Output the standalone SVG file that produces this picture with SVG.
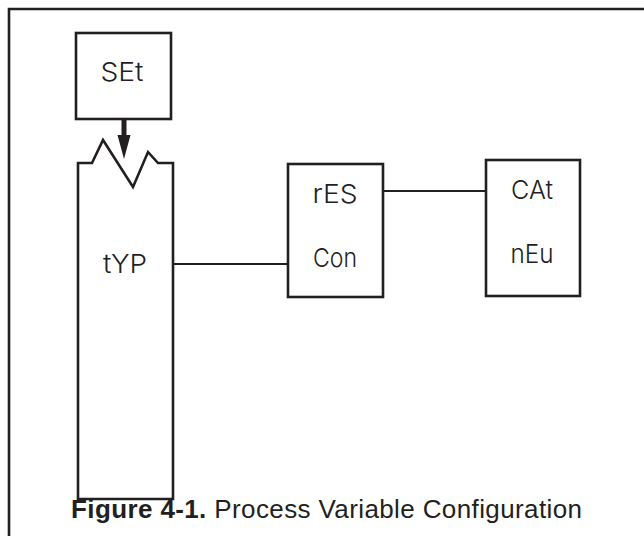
<svg xmlns="http://www.w3.org/2000/svg" width="644" height="536" viewBox="0 0 644 536">
<style>
.frame{fill:none;stroke:#231f20;stroke-width:2.6}
.box{fill:#fff;stroke:#231f20;stroke-width:2.6}
.conn{fill:none;stroke:#231f20;stroke-width:2.2}
.seg{font-family:"Inter","Open Sans","DejaVu Sans",sans-serif;font-weight:300;font-size:26px;fill:#231f20;text-anchor:middle}
.cap{font-family:"Liberation Sans",Arial,sans-serif;font-size:26px;fill:#231f20}
</style>
<rect width="644" height="536" fill="#fff"/>
<path class="frame" d="M9 536 V9 H644"/>
<g id="connectors">
<line class="conn" x1="173" y1="264" x2="288" y2="264"/>
<line class="conn" x1="383" y1="191" x2="486" y2="191"/>
</g>
<g id="node-set">
<rect class="box" x="76" y="33" width="95" height="86"/>
<text class="seg" x="122" y="81" textLength="43" lengthAdjust="spacingAndGlyphs">SEt</text>
</g>
<g id="node-typ">
<path class="box" d="M78 499 V163 H92 L103 140 L133 187 L148 152 L158 163 H173 V499 Z"/>
<text class="seg" x="125" y="273" textLength="44" lengthAdjust="spacingAndGlyphs">tYP</text>
</g>
<g id="arrow">
<rect x="121.5" y="119" width="5" height="17" fill="#231f20"/>
<polygon points="117.5,135 130.5,135 124,159" fill="#231f20"/>
</g>
<g id="node-res">
<rect class="box" x="288" y="164" width="95" height="133"/>
<text class="seg" x="335" y="203" textLength="45" lengthAdjust="spacingAndGlyphs">rES</text>
<text class="seg" x="335" y="267" textLength="44" lengthAdjust="spacingAndGlyphs">Con</text>
</g>
<g id="node-cat">
<rect class="box" x="486" y="160" width="94" height="136"/>
<text class="seg" x="532" y="199" textLength="42" lengthAdjust="spacingAndGlyphs">CAt</text>
<text class="seg" x="532" y="263" textLength="43" lengthAdjust="spacingAndGlyphs">nEu</text>
</g>
<text class="cap" x="71" y="518" textLength="511" lengthAdjust="spacing"><tspan font-weight="bold">Figure 4-1.</tspan> Process Variable Configuration</text>
</svg>
